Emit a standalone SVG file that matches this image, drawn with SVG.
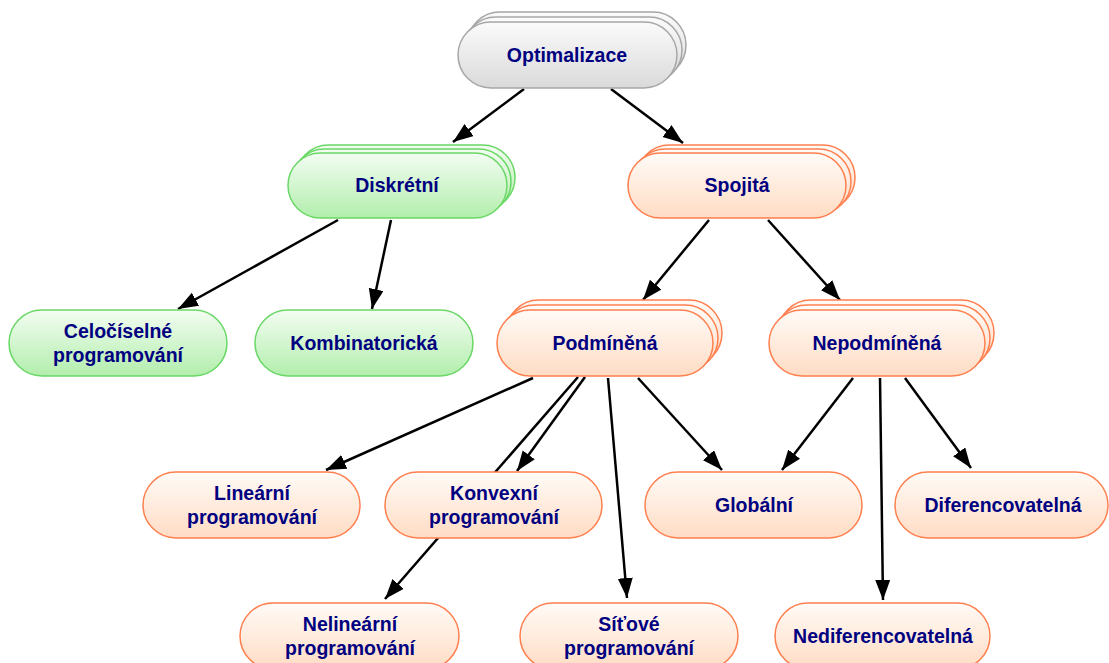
<svg xmlns="http://www.w3.org/2000/svg" width="1109" height="663" viewBox="0 0 1109 663">
<defs>
<linearGradient id="gGray" x1="0" y1="0" x2="0" y2="1"><stop offset="0" stop-color="#fbfbfb"/><stop offset="1" stop-color="#dadada"/></linearGradient>
<linearGradient id="gGreen" x1="0" y1="0" x2="0" y2="1"><stop offset="0" stop-color="#f3fdf2"/><stop offset="1" stop-color="#b2eeac"/></linearGradient>
<linearGradient id="gOrange" x1="0" y1="0" x2="0" y2="1"><stop offset="0" stop-color="#fffbf7"/><stop offset="1" stop-color="#ffdcc4"/></linearGradient>
<marker id="arr" markerUnits="userSpaceOnUse" markerWidth="22" markerHeight="16" refX="20" refY="7.5" orient="auto"><path d="M0,0 L20,7.5 L0,15 Z" fill="#000"/></marker>
</defs>
<style>
.gray{fill:url(#gGray);stroke:#a6a6a6;stroke-width:1.5}
.green{fill:url(#gGreen);stroke:#6ad866;stroke-width:1.5}
.orange{fill:url(#gOrange);stroke:#ff7f4f;stroke-width:1.5}
.t{font-family:"Liberation Sans",Arial,sans-serif;font-weight:bold;font-size:19.5px;fill:#000080;text-anchor:middle}
.e{stroke:#000;stroke-width:2.5;fill:none}
.a{marker-end:url(#arr)}
</style>
<rect width="1109" height="663" fill="#fff"/>
<g id="connectors">
<line class="e a" x1="524" y1="89" x2="453" y2="142"/>
<line class="e a" x1="611" y1="89" x2="683" y2="143"/>
<line class="e a" x1="338" y1="220" x2="178" y2="309"/>
<line class="e a" x1="391" y1="220" x2="372" y2="309"/>
<line class="e a" x1="709" y1="220" x2="643" y2="300"/>
<line class="e a" x1="768" y1="220" x2="840" y2="300"/>
<line class="e a" x1="533" y1="378" x2="326" y2="470"/>
<line class="e a" x1="585" y1="377" x2="517" y2="471"/>
<line class="e a" x1="578" y1="377" x2="385" y2="599"/>
<line class="e a" x1="608" y1="378" x2="627" y2="598"/>
<line class="e a" x1="638" y1="378" x2="722" y2="470"/>
<line class="e a" x1="853" y1="378" x2="782" y2="470"/>
<line class="e a" x1="880" y1="378" x2="883" y2="600"/>
<line class="e a" x1="905" y1="378" x2="971" y2="468"/>
</g>
<g id="optimalizace">
<rect class="gray" x="467" y="12" width="219" height="66" rx="33"/>
<rect class="gray" x="463" y="17" width="219" height="66" rx="33"/>
<rect class="gray" x="458" y="22" width="219" height="66" rx="33"/>
<text class="t" x="567" y="62">Optimalizace</text>
</g>
<g id="diskretni">
<rect class="green" x="296" y="145" width="219" height="65" rx="32.5"/>
<rect class="green" x="292" y="149" width="219" height="65" rx="32.5"/>
<rect class="green" x="288" y="153" width="219" height="65" rx="32.5"/>
<text class="t" x="397" y="192">Diskrétní</text>
</g>
<g id="spojita">
<rect class="orange" x="637" y="145" width="218" height="65" rx="32.5"/>
<rect class="orange" x="633" y="149" width="218" height="65" rx="32.5"/>
<rect class="orange" x="628" y="153" width="218" height="65" rx="32.5"/>
<text class="t" x="737" y="192">Spojitá</text>
</g>
<g id="celociselne">
<rect class="green" x="9" y="310" width="218" height="66" rx="33"/>
<text class="t" x="118" y="338">Celočíselné</text>
<text class="t" x="118" y="362">programování</text>
</g>
<g id="kombinatoricka">
<rect class="green" x="255" y="310" width="218" height="66" rx="33"/>
<text class="t" x="364" y="350">Kombinatorická</text>
</g>
<g id="podminena">
<rect class="orange" x="506" y="300" width="216" height="66" rx="33"/>
<rect class="orange" x="502" y="305" width="216" height="66" rx="33"/>
<rect class="orange" x="497" y="310" width="216" height="66" rx="33"/>
<text class="t" x="605" y="350">Podmíněná</text>
</g>
<g id="nepodminena">
<rect class="orange" x="778" y="300" width="216" height="66" rx="33"/>
<rect class="orange" x="774" y="305" width="216" height="66" rx="33"/>
<rect class="orange" x="769" y="310" width="216" height="66" rx="33"/>
<text class="t" x="877" y="350">Nepodmíněná</text>
</g>
<g id="linearni">
<rect class="orange" x="143" y="472" width="217" height="66" rx="33"/>
<text class="t" x="252" y="500">Lineární</text>
<text class="t" x="252" y="524">programování</text>
</g>
<g id="konvexni">
<rect class="orange" x="385" y="472" width="217" height="66" rx="33"/>
<text class="t" x="494" y="500">Konvexní</text>
<text class="t" x="494" y="524">programování</text>
</g>
<g id="globalni">
<rect class="orange" x="645" y="472" width="217" height="66" rx="33"/>
<text class="t" x="754" y="512">Globální</text>
</g>
<g id="diferencovatelna">
<rect class="orange" x="895" y="472" width="213" height="66" rx="33"/>
<text class="t" x="1003" y="512">Diferencovatelná</text>
</g>
<g id="nelinearni">
<rect class="orange" x="240" y="603" width="219" height="66" rx="33"/>
<text class="t" x="350" y="631">Nelineární</text>
<text class="t" x="350" y="655">programování</text>
</g>
<g id="sitove">
<rect class="orange" x="520" y="603" width="218" height="66" rx="33"/>
<text class="t" x="629" y="631">Síťové</text>
<text class="t" x="629" y="655">programování</text>
</g>
<g id="nediferencovatelna">
<rect class="orange" x="775" y="603" width="215" height="66" rx="33"/>
<text class="t" x="883" y="643">Nediferencovatelná</text>
</g>
</svg>
